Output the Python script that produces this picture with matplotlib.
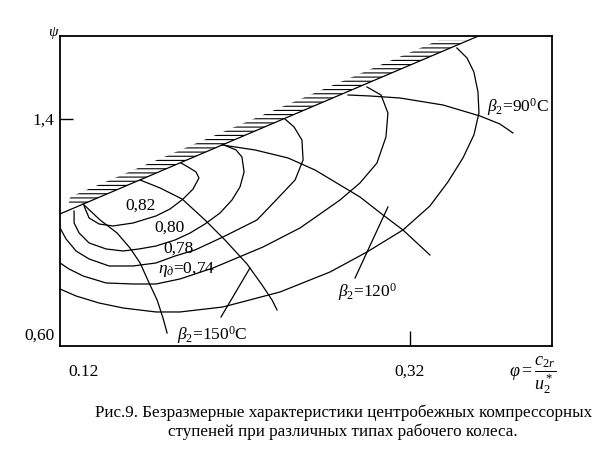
import numpy as np
import matplotlib
matplotlib.use('Agg')
import matplotlib.pyplot as plt

plt.rcParams['font.family'] = ['Liberation Serif', 'DejaVu Serif']
plt.rcParams['mathtext.fontset'] = 'custom'
plt.rcParams['mathtext.rm'] = 'Liberation Serif'
plt.rcParams['mathtext.it'] = 'Liberation Serif:italic'
plt.rcParams['mathtext.bf'] = 'Liberation Serif:bold'
plt.rcParams['hatch.linewidth'] = 0.8

# surge boundary (straight line)
surge_phi = [0.106, 0.362]
surge_psi = [1.047, 1.709]

# efficiency lines eta = 0.82 ... outermost
eta_082_phi = [0.1206, 0.1237, 0.1298, 0.1383, 0.1506, 0.1646, 0.1732, 0.1812, 0.1873, 0.1909, 0.1891, 0.1842, 0.1799]
eta_082_psi = [1.0763, 1.0316, 1.0093, 1.0019, 1.0130, 1.0391, 1.0651, 1.1023, 1.1395, 1.1805, 1.2028, 1.2214, 1.2363]

eta_080_phi = [0.1145, 0.1145, 0.1176, 0.1237, 0.1341, 0.1445, 0.1542, 0.1646, 0.1763, 0.1855, 0.1946, 0.2038,
               0.2111, 0.2160, 0.2185, 0.2172, 0.2136, 0.2062]
eta_080_psi = [1.0577, 1.0130, 0.9758, 0.9386, 0.9163, 0.9088, 0.9163, 0.9274, 0.9498, 0.9758, 1.0093, 1.0502,
               1.0986, 1.1470, 1.2028, 1.2586, 1.2847, 1.3033]

eta_078_phi = [0.1059, 0.1096, 0.1157, 0.1237, 0.1359, 0.1506, 0.1646, 0.1763, 0.1885, 0.2056, 0.2264, 0.2387,
               0.2497, 0.2546, 0.2539, 0.2491, 0.2435]
eta_078_psi = [0.9944, 0.9535, 0.9088, 0.8791, 0.8530, 0.8530, 0.8642, 0.8902, 0.9126, 0.9609, 1.0242, 1.1023,
               1.1730, 1.2474, 1.3219, 1.3702, 1.4000]

eta_074_phi = [0.1059, 0.1114, 0.1200, 0.1341, 0.1506, 0.1646, 0.1793, 0.1995, 0.2301, 0.2527, 0.2650, 0.2772,
               0.2894, 0.2998, 0.3053, 0.3065, 0.3023, 0.2937]
eta_074_psi = [0.8642, 0.8419, 0.8158, 0.7898, 0.7860, 0.7860, 0.8047, 0.8456, 0.9237, 0.9944, 1.0465, 1.0986,
               1.1619, 1.2363, 1.3330, 1.4223, 1.4893, 1.5191]

eta_070_phi = [0.1059, 0.1157, 0.1298, 0.1445, 0.1646, 0.1793, 0.2056, 0.2405, 0.2711, 0.2937, 0.3157, 0.3322,
               0.3432, 0.3524, 0.3591, 0.3622, 0.3616, 0.3591, 0.3549, 0.3487]
eta_070_psi = [0.7674, 0.7414, 0.7153, 0.6967, 0.6819, 0.6819, 0.7005, 0.7563, 0.8307, 0.9051, 0.9870, 1.0763,
               1.1656, 1.2549, 1.3405, 1.4223, 1.5005, 1.5749, 1.6270, 1.6642]

# beta2 lines
beta_a_phi = [0.1200, 0.1304, 0.1408, 0.1487, 0.1549, 0.1604, 0.1653, 0.1689, 0.1714]
beta_a_psi = [1.0837, 1.0242, 0.9758, 0.9200, 0.8642, 0.7898, 0.7265, 0.6595, 0.6037]

beta_b_phi = [0.1549, 0.1671, 0.1806, 0.1946, 0.2068, 0.2203, 0.2295, 0.2356, 0.2387]
beta_b_psi = [1.1730, 1.1433, 1.1023, 1.0242, 0.9498, 0.8605, 0.7823, 0.7265, 0.6893]

beta_c_phi = [0.2050, 0.2252, 0.2454, 0.2619, 0.2772, 0.2894, 0.3035, 0.3157, 0.3322]
beta_c_psi = [1.3033, 1.2847, 1.2549, 1.2102, 1.1544, 1.1098, 1.0428, 0.9870, 0.8940]

beta_d_phi = [0.2821, 0.2955, 0.3139, 0.3402, 0.3628, 0.3750, 0.3830]
beta_d_psi = [1.4893, 1.4856, 1.4781, 1.4521, 1.4112, 1.3814, 1.3479]

# leader lines from labels
lead_150_phi = [0.2044, 0.2221]
lead_150_psi = [0.6633, 0.8456]
lead_120_phi = [0.2864, 0.3065]
lead_120_psi = [0.8084, 1.0726]

eta_labels = ['0,82', '0,80', '0,78', r'$\eta_д$=0,74']
eta_label_phi = [0.1549, 0.1726, 0.1781, 0.1836]
eta_label_psi = [1.0763, 0.9944, 0.9163, 0.8381]

beta_labels = [r'$\beta_2$=150$^0$C', r'$\beta_2$=120$^0$', r'$\beta_2$=90$^0$C']
beta_label_phi = [0.1775, 0.2760, 0.3671]
beta_label_psi = [0.5963, 0.7563, 1.4447]

x_ticks = [0.12, 0.32]
x_ticklabels = ['0.12', '0,32']
y_ticks = [0.60, 1.4]
y_ticklabels = ['0,60', '1,4']

fig = plt.figure(figsize=(6.15, 4.54), dpi=100)
ax = fig.add_axes([0.0976, 0.2379, 0.800, 0.6828])
ax.set_xlim(0.1059, 0.4069)
ax.set_ylim(0.5553, 1.7088)

lw = 0.9
ax.plot(surge_phi, surge_psi, color='black', lw=lw)

# hatched band on the surge side
band = 0.0183
hpsi = np.linspace(1.080, 1.694, 60)
hline = np.interp(hpsi, surge_psi, surge_phi)
hleft = np.maximum(hline - band, 0.1114)
ax.fill(np.concatenate([hline, hleft[::-1]]), np.concatenate([hpsi, hpsi[::-1]]),
        facecolor='none', edgecolor='black', linewidth=0, hatch='----')

for xs, ys in [(eta_082_phi, eta_082_psi), (eta_080_phi, eta_080_psi), (eta_078_phi, eta_078_psi),
               (eta_074_phi, eta_074_psi), (eta_070_phi, eta_070_psi),
               (beta_a_phi, beta_a_psi), (beta_b_phi, beta_b_psi), (beta_c_phi, beta_c_psi),
               (beta_d_phi, beta_d_psi), (lead_150_phi, lead_150_psi), (lead_120_phi, lead_120_psi)]:
    ax.plot(xs, ys, color='black', lw=lw)

for t, x, y in zip(eta_labels, eta_label_phi, eta_label_psi):
    ax.text(x, y, t, ha='center', va='center', fontsize=12.5)
for t, x, y in zip(beta_labels, beta_label_phi, beta_label_psi):
    ax.text(x, y, t, ha='left', va='center', fontsize=12.5)

ax.set_xticks(x_ticks)
ax.set_xticklabels(x_ticklabels)
ax.set_yticks(y_ticks)
ax.set_yticklabels(y_ticklabels)
ax.tick_params(axis='x', direction='in', length=11, width=1, pad=13, labelsize=12.5)
ax.tick_params(axis='y', direction='in', length=9, width=1, pad=4, labelsize=12.5)
ax.xaxis.get_major_ticks()[0].tick1line.set_visible(False)
ax.yaxis.get_major_ticks()[0].tick1line.set_visible(False)
for s in ax.spines.values():
    s.set_linewidth(1.3)

ax.text(0.0, 1.01, r'$\psi$', transform=ax.transAxes, ha='right', va='center', fontsize=11)
ax.text(0.913, -0.094, r'$\varphi = \dfrac{c_{2r}}{u_2^*}$', transform=ax.transAxes,
        ha='left', va='center', fontsize=13)

fig.text(0.558, 0.069, 'Рис.9. Безразмерные характеристики центробежных компрессорных\n'
         'ступеней при различных типах рабочего колеса.',
         ha='center', va='center', fontsize=12.25, linespacing=1.2)

fig.savefig('out.png', dpi=100)
